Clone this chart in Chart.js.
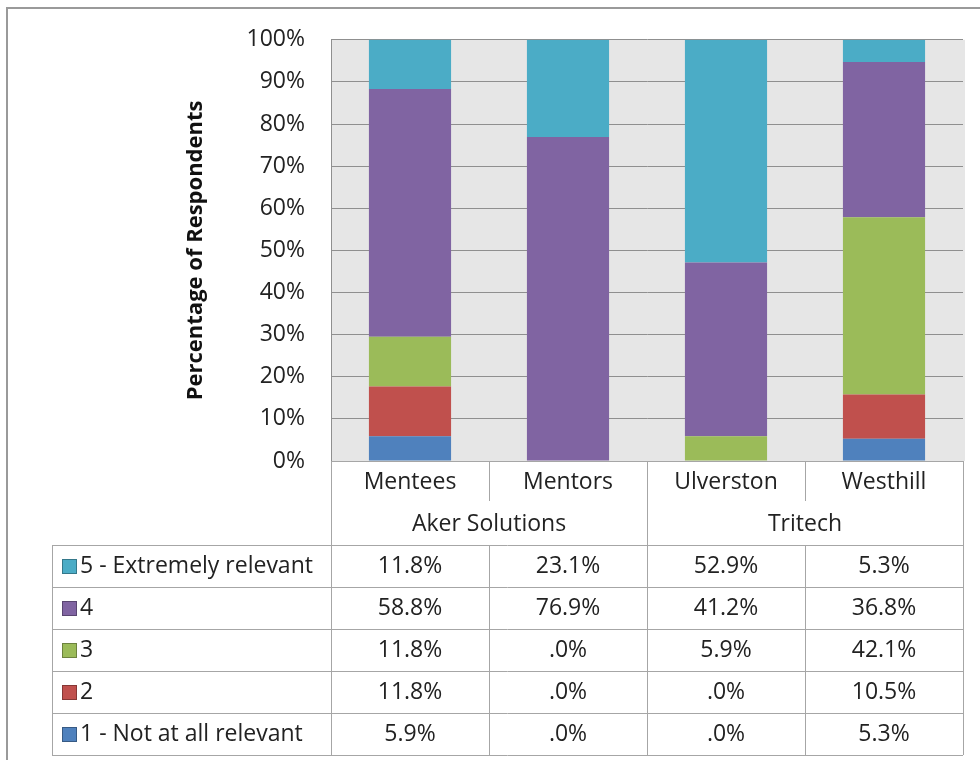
<!DOCTYPE html>
<html>
<head>
<meta charset="utf-8">
<script src="https://cdn.jsdelivr.net/npm/chart.js@4"></script>
<style>
  html, body { margin: 0; padding: 0; background: #fff; }
  #wrap { width: 980px; height: 760px; position: relative; }
</style>
</head>
<body>
<div id="wrap"><canvas id="tabla" width="980" height="760"></canvas></div>
<script>
// Categorías y grupos
var categories = ['Mentees', 'Mentors', 'Ulverston', 'Westhill'];
var groups = ['Aker Solutions', 'Tritech'];
var groupOf = [0, 0, 1, 1];

// Series (porcentaje de respuestas), de abajo hacia arriba
var seriesLabels = ['1 - Not at all relevant', '2', '3', '4', '5 - Extremely relevant'];
var seriesColors = ['#4F81BD', '#C0504D', '#9BBB59', '#8064A2', '#4BACC6'];
var rel1 = [5.9, 0, 0, 5.3];
var rel2 = [11.8, 0, 0, 10.5];
var rel3 = [11.8, 0, 5.9, 42.1];
var rel4 = [58.8, 76.9, 41.2, 36.8];
var rel5 = [11.8, 23.1, 52.9, 5.3];
var seriesData = [rel1, rel2, rel3, rel4, rel5];

var yTicks = [0, 10, 20, 30, 40, 50, 60, 70, 80, 90, 100];

var FONT = '"Open Sans", sans-serif';
var TXT = 23;
const ctx = document.getElementById('tabla').getContext('2d');

var datasets = seriesData.map(function (d, i) {
    return {
        label: seriesLabels[i],
        data: d,
        backgroundColor: seriesColors[i],
        borderWidth: 0,
        barPercentage: 0.52,
        categoryPercentage: 1.0
    };
});

function fmt(v) {
    return v === 0 ? '.0%' : v.toFixed(1) + '%';
}

// Fondo gris del área de trazado y borde exterior
var fondo = {
    id: 'fondo',
    beforeDraw: function (chart) {
        var c = chart.ctx, a = chart.chartArea;
        c.save();
        c.fillStyle = '#fff';
        c.fillRect(0, 0, chart.width, chart.height);
        c.strokeStyle = '#9a9a9a';
        c.lineWidth = 2;
        c.strokeRect(7, 8, chart.width + 10, chart.height + 10);
        c.fillStyle = '#e6e6e6';
        c.fillRect(a.left, a.top, a.right - a.left + 2, a.bottom - a.top);
        c.restore();
    }
};

// Tabla de datos bajo el gráfico
var tablaDatos = {
    id: 'tablaDatos',
    afterDraw: function (chart) {
        var c = chart.ctx;
        var x = chart.scales.x;
        var a = chart.chartArea;
        var n = categories.length;
        var half = (x.right - x.left) / n / 2;
        var rowH = 42;
        var top = a.bottom;
        var legendLeft = 52;
        var lineCol = '#a6a6a6';
        var edges = categories.map(function (cat, i) { return x.getPixelForValue(i) - half; });
        edges.push(x.getPixelForValue(n - 1) + half);

        c.save();
        c.strokeStyle = lineCol;
        c.lineWidth = 1;
        c.fillStyle = '#222';
        c.textAlign = 'center';
        c.textBaseline = 'middle';
        c.font = TXT + 'px ' + FONT;

        function hline(x1, x2, y) {
            c.beginPath(); c.moveTo(x1, y + 0.5); c.lineTo(x2, y + 0.5); c.stroke();
        }
        function vline(xx, y1, y2) {
            c.beginPath(); c.moveTo(Math.round(xx) + 0.5, y1); c.lineTo(Math.round(xx) + 0.5, y2); c.stroke();
        }

        // Encabezados: categorías y grupos
        var headBottom = top + 2 * rowH;
        hline(a.left, edges[n], top);
        categories.forEach(function (cat, i) {
            c.fillText(cat, x.getPixelForValue(i), top + rowH / 2);
        });
        for (var i = 0; i <= n; i++) {
            var fullLine = (i === 0 || i === n || groupOf[i] !== groupOf[i - 1]);
            vline(edges[i], top, fullLine ? headBottom : top + rowH - 2);
        }
        groups.forEach(function (g, gi) {
            var idx = [];
            groupOf.forEach(function (v, i) { if (v === gi) idx.push(i); });
            var gx = (edges[idx[0]] + edges[idx[idx.length - 1] + 1]) / 2;
            c.fillText(g, gx, top + rowH * 1.5);
        });

        // Filas de datos con leyenda (orden inverso: 5 arriba)
        var rows = seriesLabels.length;
        var bodyTop = headBottom;
        for (var r = 0; r <= rows; r++) {
            hline(legendLeft, edges[n], bodyTop + r * rowH);
        }
        vline(legendLeft, bodyTop, bodyTop + rows * rowH);
        for (var k = 0; k <= n; k++) {
            vline(edges[k], bodyTop, bodyTop + rows * rowH);
        }
        for (var r2 = 0; r2 < rows; r2++) {
            var s = rows - 1 - r2;
            var cy = bodyTop + r2 * rowH + rowH / 2;
            c.fillStyle = seriesColors[s];
            c.fillRect(62, cy - 7, 15, 15);
            c.strokeStyle = 'rgba(0,0,0,0.3)';
            c.strokeRect(62.5, cy - 6.5, 14, 14);
            c.strokeStyle = lineCol;
            c.fillStyle = '#222';
            c.textAlign = 'left';
            c.fillText(seriesLabels[s], 80, cy);
            c.textAlign = 'center';
            for (var j = 0; j < n; j++) {
                c.fillText(fmt(seriesData[s][j]), x.getPixelForValue(j), cy);
            }
        }
        c.restore();
    }
};

var miGrafico = new Chart(ctx, {
    type: 'bar',
    data: { labels: categories, datasets: datasets },
    options: {
        responsive: false,
        animation: false,
        layout: { padding: { left: 183, right: 17, top: 38, bottom: 299 } },
        plugins: {
            legend: { display: false },
            tooltip: { enabled: false }
        },
        scales: {
            x: {
                stacked: true,
                display: false
            },
            y: {
                stacked: true,
                min: 0,
                max: 100,
                afterFit: function (scale) { scale.width = 148; },
                afterBuildTicks: function (scale) {
                    scale.ticks = yTicks.map(function (v) { return { value: v }; });
                },
                grid: { color: '#8f8f8f', lineWidth: 1, drawTicks: false },
                border: { display: true, color: '#8f8f8f' },
                ticks: {
                    padding: 26,
                    color: '#222',
                    font: { family: FONT, size: TXT },
                    callback: function (v) { return v + '%'; }
                },
                title: {
                    display: true,
                    text: 'Percentage of Respondents',
                    color: '#111',
                    padding: 0,
                    font: { family: FONT, size: 22, weight: 'bold' }
                }
            }
        }
    },
    plugins: [fondo, tablaDatos]
});
</script>
</body>
</html>
